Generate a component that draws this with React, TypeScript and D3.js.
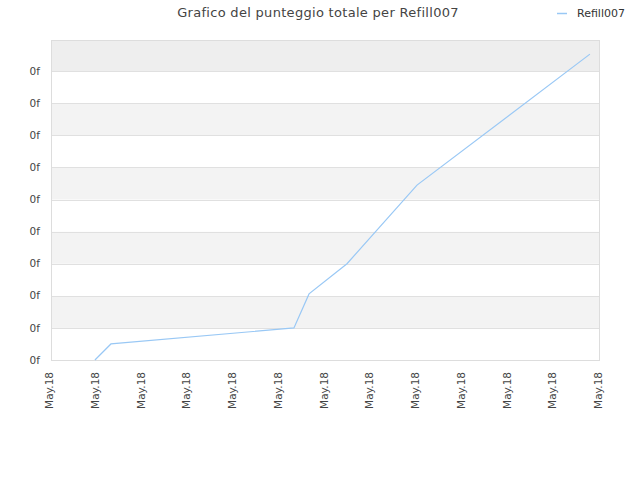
import React, { useEffect, useRef } from "react";
import * as d3 from "d3";

// x positions are in tick units (0 = first "May.18" tick, 12 = last)
const tickLabels = [
  "May.18", "May.18", "May.18", "May.18", "May.18", "May.18", "May.18",
  "May.18", "May.18", "May.18", "May.18", "May.18", "May.18",
];
const pointX = [0.96, 1.31, 5.31, 5.64, 6.47, 8.0, 11.78];
const scores = [0, 0.5, 1.0, 2.06, 3.0, 5.45, 9.53];
const yTicks = [0, 1, 2, 3, 4, 5, 6, 7, 8, 9];
const yTickLabel = "0f";
const seriesName = "Refill007";
const title = "Grafico del punteggio totale per Refill007";

const W = 640;
const H = 480;
const margin = { top: 40, right: 40, bottom: 120, left: 51 };

export default function App() {
  const ref = useRef<SVGSVGElement>(null);

  useEffect(() => {
    const svg = d3.select(ref.current);
    svg.selectAll("*").remove();

    const font = "DejaVu Sans, sans-serif";
    const x = d3
      .scaleLinear()
      .domain([0, tickLabels.length - 1])
      .range([margin.left, W - margin.right]);
    const y = d3
      .scaleLinear()
      .domain([0, 9.97])
      .range([H - margin.bottom, margin.top]);

    const g = svg.append("g");

    // alternating bands
    const bands = d3.range(0, 10);
    g.selectAll("rect.band")
      .data(bands)
      .join("rect")
      .attr("class", "band")
      .attr("x", margin.left)
      .attr("width", W - margin.left - margin.right)
      .attr("y", (d) => y(Math.min(d + 1, 9.97)))
      .attr("height", (d) => y(d) - y(Math.min(d + 1, 9.97)))
      .attr("fill", (d) => (d === 9 ? "#eeeeee" : d % 2 === 1 ? "#f3f3f3" : "#ffffff"));

    // grid lines
    g.selectAll("line.grid")
      .data(yTicks)
      .join("line")
      .attr("class", "grid")
      .attr("x1", margin.left)
      .attr("x2", W - margin.right)
      .attr("y1", (d) => Math.round(y(d)) + 0.5)
      .attr("y2", (d) => Math.round(y(d)) + 0.5)
      .attr("stroke", "#e0e0e0");

    // plot border
    g.append("rect")
      .attr("x", margin.left + 0.5)
      .attr("y", margin.top + 0.5)
      .attr("width", W - margin.left - margin.right - 1)
      .attr("height", H - margin.bottom - margin.top)
      .attr("fill", "none")
      .attr("stroke", "#dddddd");

    // y labels
    g.selectAll("text.ylab")
      .data(yTicks)
      .join("text")
      .attr("class", "ylab")
      .attr("x", margin.left - 11)
      .attr("y", (d) => y(d))
      .attr("dy", "0.35em")
      .attr("text-anchor", "end")
      .attr("font-family", font)
      .attr("font-size", 10.5)
      .attr("fill", "#444")
      .text(yTickLabel);

    // x labels
    g.selectAll("text.xlab")
      .data(tickLabels)
      .join("text")
      .attr("class", "xlab")
      .attr(
        "transform",
        (_, i) => `translate(${x(i) + 2},${H - margin.bottom + 12}) rotate(-90)`
      )
      .attr("text-anchor", "end")
      .attr("font-family", font)
      .attr("font-size", 10.5)
      .attr("fill", "#444")
      .text((d) => d);

    // the line
    const line = d3
      .line<number>()
      .x((_, i) => x(pointX[i]))
      .y((d) => y(d));
    g.append("path")
      .datum(scores)
      .attr("d", line)
      .attr("fill", "none")
      .attr("stroke", "#99c8f5")
      .attr("stroke-width", 1.2);

    // title
    svg
      .append("text")
      .attr("x", 318)
      .attr("y", 17)
      .attr("text-anchor", "middle")
      .attr("font-family", font)
      .attr("font-size", 13)
      .attr("letter-spacing", 0.3)
      .attr("fill", "#444")
      .text(title);

    // legend
    svg
      .append("line")
      .attr("x1", 557)
      .attr("x2", 567)
      .attr("y1", 13.5)
      .attr("y2", 13.5)
      .attr("stroke", "#99c8f5")
      .attr("stroke-width", 1.5);
    svg
      .append("text")
      .attr("x", 577)
      .attr("y", 17)
      .attr("font-family", font)
      .attr("font-size", 11)
      .attr("fill", "#333")
      .text(seriesName);
  }, []);

  return (
    <svg
      ref={ref}
      width={W}
      height={H}
      style={{ display: "block", position: "absolute", left: 0, top: 0 }}
    />
  );
}
